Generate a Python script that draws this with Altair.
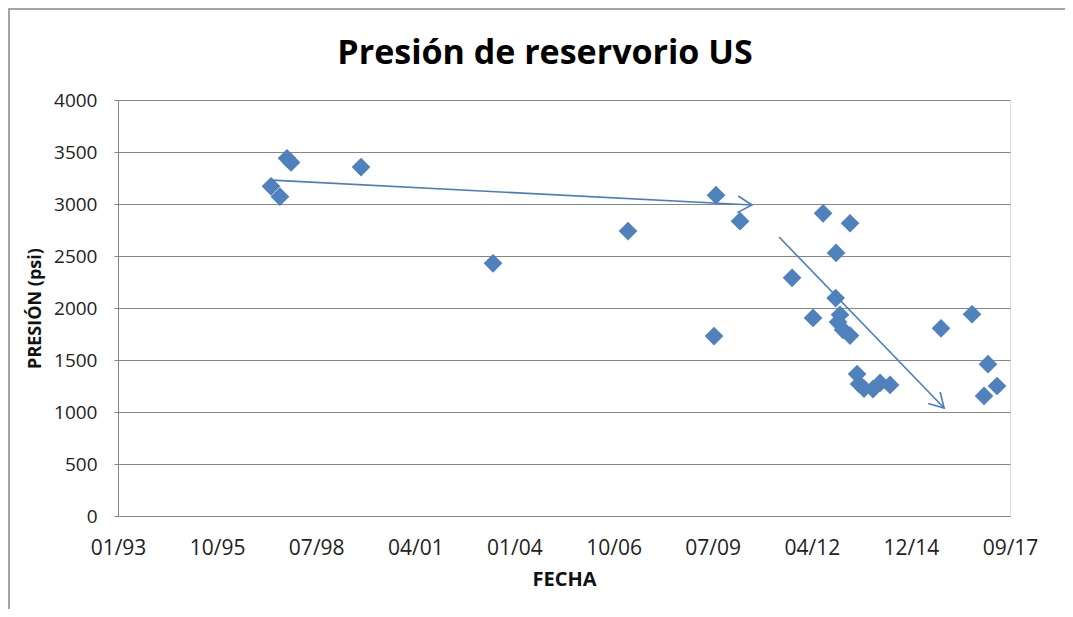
import math
import altair as alt
import pandas as pd

# ---- data ----
fechas = [
    "1997-04-24", "1997-07-23", "1997-10-02", "1997-11-12", "1999-10-19",
    "2003-06-12", "2007-03-05", "2009-07-20", "2009-08-09", "2010-04-08",
    "2011-09-15", "2012-04-14", "2012-07-24", "2012-12-02", "2012-11-28",
    "2013-04-22", "2013-01-11", "2012-12-22", "2013-02-10", "2013-04-22",
    "2013-07-02", "2013-07-22", "2013-09-10", "2013-12-10", "2014-02-19",
    "2014-05-31", "2015-10-27", "2016-09-04", "2017-02-12", "2017-01-03",
    "2017-05-14",
]
presion = [
    3170, 3070, 3440, 3400, 3355,
    2430, 2740, 1730, 3085, 2835,
    2290, 1905, 2910, 2530, 2095,
    2815, 1935, 1865, 1790, 1735,
    1365, 1270, 1225, 1220, 1280,
    1260, 1805, 1940, 1460, 1155,
    1250,
]

tick_fechas = [
    (1993, 1, 31), (1995, 10, 28), (1998, 7, 24), (2001, 4, 19), (2004, 1, 14),
    (2006, 10, 10), (2009, 7, 6), (2012, 4, 1), (2014, 12, 27), (2017, 9, 22),
]
y_ticks = [0, 500, 1000, 1500, 2000, 2500, 3000, 3500, 4000]

titulo = "Presión de reservorio US"

flecha_ini_fecha = ["1997-05-04", "2011-05-07"]
flecha_ini_presion = [3230, 2683]
flecha_fin_fecha = ["2010-08-07", "2015-11-27"]
flecha_fin_presion = [2990, 1038]

# ---- layout ----
W, H = 892, 416
PAD_L, PAD_T = 110, 92
AZUL = "#4F81BD"
GRIS = "#868686"
FONT = "Open Sans"

df = pd.DataFrame({"fecha": fechas, "presion": presion})

# arrow directions in screen space (for the arrowhead rotation)
d0 = pd.Timestamp("%04d-%02d-%02d" % tick_fechas[0])
d1 = pd.Timestamp("%04d-%02d-%02d" % tick_fechas[-1])
span_days = (d1 - d0).days
angulos = []
for a, pa, b, pb in zip(flecha_ini_fecha, flecha_ini_presion, flecha_fin_fecha, flecha_fin_presion):
    dx = (pd.Timestamp(b) - pd.Timestamp(a)).days / span_days * W
    dy = -(pb - pa) / 4000 * H
    angulos.append(math.degrees(math.atan2(dy, dx)))

flechas = pd.DataFrame({
    "f1": flecha_ini_fecha, "p1": flecha_ini_presion,
    "f2": flecha_fin_fecha, "p2": flecha_fin_presion,
    "ang": angulos,
})

dom = [alt.DateTime(year=t[0], month=t[1], date=t[2], utc=True) for t in (tick_fechas[0], tick_fechas[-1])]
vals = [alt.DateTime(year=t[0], month=t[1], date=t[2], utc=True) for t in tick_fechas]

xscale = alt.Scale(type="utc", domain=dom, nice=False)
yscale = alt.Scale(domain=[0, 4000], nice=False)

xaxis = alt.Axis(
    values=vals, labelExpr="utcFormat(datum.value, '%m/%y')", title="FECHA",
    grid=False, ticks=False, domainColor=GRIS, domainWidth=1,
    labelFont=FONT, labelFontSize=21, labelColor="#222222", labelPadding=21,
    labelOverlap=False, labelFlush=False,
    titleFont=FONT, titleFontSize=20, titleFontWeight="bold", titleColor="#111111",
    titlePadding=11,
)
yaxis = alt.Axis(
    values=y_ticks, format="d", title="PRESIÓN (psi)",
    grid=True, gridColor=GRIS, gridWidth=1,
    ticks=True, tickSize=4, tickColor=GRIS, domainColor=GRIS, domainWidth=1,
    labelFont=FONT, labelFontSize=19, labelColor="#222222", labelPadding=17,
    titleFont=FONT, titleFontSize=18, titleFontWeight="bold", titleColor="#111111",
    titlePadding=9,
)

uno = pd.DataFrame({"t": [titulo]})

borde = alt.Chart(uno).mark_rect(
    fill="white", fillOpacity=0, stroke=GRIS, strokeWidth=1.5
).encode(
    x=alt.value(-109), y=alt.value(-91), x2=alt.value(1100), y2=alt.value(700)
)

encabezado = alt.Chart(uno).mark_text(
    font=FONT, fontSize=34, fontWeight="bold", color="#000000",
    align="center", baseline="alphabetic"
).encode(
    text="t:N", x=alt.value(427), y=alt.value(-36)
)

puntos = alt.Chart(df).mark_point(
    shape="diamond", filled=True, size=350, color=AZUL, opacity=1
).encode(
    x=alt.X("fecha:T", scale=xscale, axis=xaxis),
    y=alt.Y("presion:Q", scale=yscale, axis=yaxis),
)

ejes = alt.Chart(flechas).mark_rule(color="#4A7EBB", strokeWidth=1.6).encode(
    x=alt.X("f1:T", scale=xscale, axis=xaxis),
    x2="f2:T",
    y=alt.Y("p1:Q", scale=yscale, axis=yaxis),
    y2="p2:Q",
)

puntas = alt.Chart(flechas).mark_point(
    shape="M-1.72,-1L0,0L-1.72,1", filled=False, size=276,
    color="#4A7EBB", strokeWidth=1.6, opacity=1
).encode(
    x=alt.X("f2:T", scale=xscale, axis=xaxis),
    y=alt.Y("p2:Q", scale=yscale, axis=yaxis),
    angle=alt.Angle("ang:Q", scale=None),
)

chart = alt.layer(borde, puntos, ejes, puntas, encabezado).properties(
    width=W, height=H,
    autosize=alt.AutoSizeParams(type="none"),
    padding={"left": PAD_L, "top": PAD_T, "right": 55, "bottom": 93},
).configure_view(stroke=None).configure(background="white")

chart.save("out.html", embed_options={"renderer": "svg", "actions": False})
